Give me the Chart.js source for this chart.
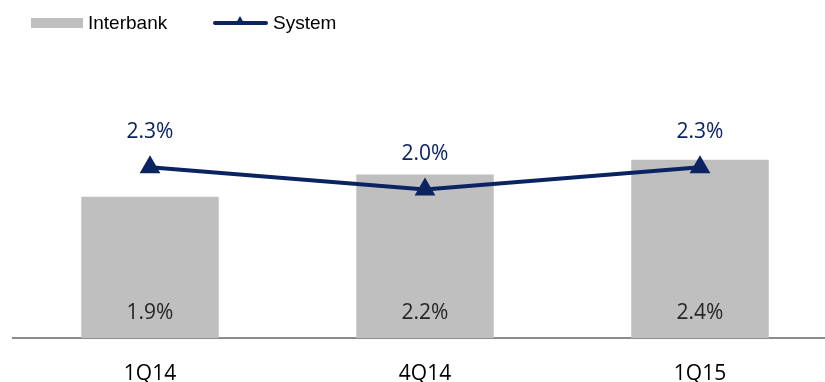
<!DOCTYPE html>
<html>
<head>
<meta charset="utf-8">
<script src="https://cdn.jsdelivr.net/npm/chart.js@4/dist/chart.umd.min.js"></script>
<style>
  html, body { margin: 0; padding: 0; background: #fff; overflow: hidden; }
  #wrap { position: relative; width: 840px; height: 382px; }
  #legend { position: absolute; left: 0; top: 0; width: 825px; height: 50px; font-family: "Liberation Sans", Arial, sans-serif; font-size: 19px; color: #000; }
  .lg { position: absolute; top: 12px; line-height: 22px; }
  .box { position: absolute; left: 31px; top: 18px; width: 52px; height: 10px; background: #BFBFBF; }
  .ln { position: absolute; left: 213px; top: 21px; width: 55px; height: 4px; background: #0B2361; border-radius: 2px; }
  .tri { position: absolute; left: 235px; top: 16px; width: 0; height: 0; border-left: 5px solid transparent; border-right: 5px solid transparent; border-bottom: 9px solid #0B2361; }
</style>
</head>
<body>
<div id="wrap">
  <canvas id="c" width="840" height="382"></canvas>
  <div id="legend">
    <div class="box"></div><div class="lg" style="left:88px">Interbank</div>
    <div class="ln"></div><div class="tri"></div><div class="lg" style="left:273px">System</div>
  </div>
</div>
<script>
const categories = ["1Q14", "4Q14", "1Q15"];
const interbankValues = [1.9, 2.2, 2.4];
const systemValues = [2.3, 2.0, 2.3];
const seriesNames = ["Interbank", "System"];

const labelFont = '"Open Sans", "Noto Sans", sans-serif';

const dataLabels = {
  id: 'dataLabels',
  afterDatasetsDraw(chart) {
    const ctx = chart.ctx;
    ctx.save();
    ctx.textAlign = 'center';
    ctx.textBaseline = 'middle';
    ctx.font = '21px ' + labelFont;
    const barMeta = chart.getDatasetMeta(1);
    barMeta.data.forEach((el, i) => {
      ctx.fillStyle = '#262626';
      ctx.fillText(interbankValues[i].toFixed(1) + '%', el.x, el.base - 25);
    });
    const lineMeta = chart.getDatasetMeta(0);
    lineMeta.data.forEach((el, i) => {
      ctx.fillStyle = '#0B2361';
      ctx.fillText(systemValues[i].toFixed(1) + '%', el.x, el.y - 35);
    });
    ctx.restore();
  }
};

new Chart(document.getElementById('c'), {
  data: {
    labels: categories,
    datasets: [
      {
        type: 'line',
        label: seriesNames[1],
        data: systemValues,
        borderColor: '#0B2361',
        backgroundColor: '#0B2361',
        borderWidth: 4,
        pointStyle: 'triangle',
        pointRadius: 12,
        pointHoverRadius: 12,
        pointBorderWidth: 0,
        tension: 0,
        order: 0
      },
      {
        type: 'bar',
        label: seriesNames[0],
        data: interbankValues,
        backgroundColor: '#BFBFBF',
        barPercentage: 0.5,
        categoryPercentage: 1.0,
        order: 1
      }
    ]
  },
  options: {
    responsive: false,
    animation: false,
    layout: { autoPadding: false, padding: { left: 12.5, right: 2.5, top: 78, bottom: 0 } },
    plugins: { legend: { display: false }, tooltip: { enabled: false } },
    scales: {
      x: {
        grid: { display: false, drawTicks: false },
        border: { display: true, color: '#8C8C8C', width: 2 },
        ticks: { color: '#000', font: { family: labelFont, size: 21, lineHeight: 1.2 }, padding: 23 },
        afterFit(scale) { scale.height = 44; }
      },
      y: {
        display: false,
        min: 0,
        max: 3.5
      }
    }
  },
  plugins: [dataLabels]
});
</script>
</body>
</html>
